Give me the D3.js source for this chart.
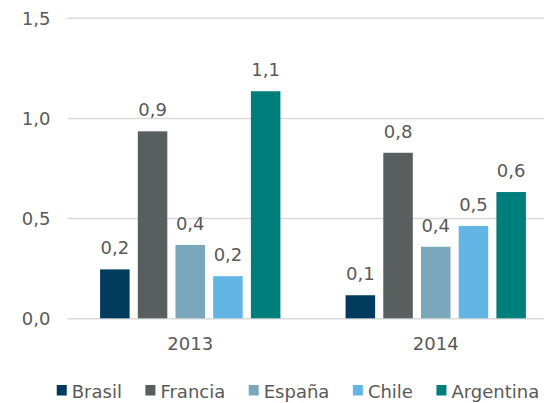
<!DOCTYPE html>
<html>
<head>
<meta charset="utf-8">
<script src="https://cdn.jsdelivr.net/npm/d3@7"></script>
<style>
  body { margin: 0; background: #fff; }
  svg { display: block; font-family: "DejaVu Sans", Verdana, sans-serif; }
</style>
</head>
<body>
<div id="chart"></div>
<script>
// data
const years = ['2013', '2014']
const countries = ['Brasil', 'Francia', 'España', 'Chile', 'Argentina']
const colors = ['#003a5c', '#595f5e', '#7ba7bd', '#63b5e5', '#007e7c']
const values2013 = [0.244, 0.933, 0.366, 0.21, 1.133]
const values2014 = [0.115, 0.826, 0.357, 0.461, 0.63]
const yTicks = [0, 0.5, 1.0, 1.5]

const seriesByYear = [values2013, values2014]

const width = 544
const height = 403
const textColor = '#595959'
const fmt = v => d3.format('.1f')(v).replace('.', ',')

const svg = d3.select('#chart').append('svg')
    .attr('width', width).attr('height', height)

// scales
const yScale = d3.scaleLinear().domain([0, 1.5]).range([318.3, 17.7])
const x0 = d3.scaleBand().domain(years).range([67.5, 558.5])
const x1 = d3.scaleBand().domain(countries)
    .range([28.5, x0.bandwidth() - 28.5])
    .paddingInner(0.217).paddingOuter(0.1085)

// gridlines + y labels
const yAxis = d3.axisLeft(yScale)
    .tickValues(yTicks)
    .tickSize(-(width - 67.5))
    .tickPadding(17)
    .tickFormat(fmt)
const yAxisG = svg.append('g')
    .attr('transform', 'translate(67.5,0)')
    .call(yAxis)
yAxisG.select('.domain').remove()
yAxisG.selectAll('.tick line').attr('stroke', '#d9d9d9').attr('stroke-width', 1.5)
yAxisG.selectAll('.tick text')
    .attr('fill', textColor)
    .attr('font-size', 18)
    .attr('dy', '0.36em')
    .attr('font-family', '"DejaVu Sans", Verdana, sans-serif')

// bars
const groups = svg.append('g').selectAll('g')
    .data(years)
    .join('g')
    .attr('transform', d => `translate(${x0(d)},0)`)

groups.each(function (year, yi) {
    const g = d3.select(this)
    const rows = countries.map((c, i) => ({ country: c, value: seriesByYear[yi][i], color: colors[i] }))
    g.selectAll('rect').data(rows).join('rect')
        .attr('x', d => x1(d.country))
        .attr('y', d => yScale(d.value))
        .attr('width', x1.bandwidth())
        .attr('height', d => yScale(0) - yScale(d.value))
        .attr('fill', d => d.color)
    g.selectAll('text').data(rows).join('text')
        .attr('x', d => x1(d.country) + x1.bandwidth() / 2)
        .attr('y', d => yScale(d.value) - 15)
        .attr('text-anchor', 'middle')
        .attr('font-size', 18)
        .attr('fill', textColor)
        .text(d => fmt(d.value))
})

// x axis labels
const xAxis = d3.axisBottom(x0).tickSize(0).tickPadding(19)
const xAxisG = svg.append('g')
    .attr('transform', `translate(0,${yScale(0)})`)
    .call(xAxis)
xAxisG.select('.domain').remove()
xAxisG.selectAll('.tick text')
    .attr('fill', textColor)
    .attr('font-size', 18)
    .attr('font-family', '"DejaVu Sans", Verdana, sans-serif')

// legend
const legend = svg.append('g').attr('transform', 'translate(0,398)')
const items = legend.selectAll('g').data(countries).join('g')
items.append('rect')
    .attr('y', -13).attr('width', 10).attr('height', 10.5)
    .attr('fill', (d, i) => colors[i])
items.append('text')
    .attr('x', 15)
    .attr('font-size', 18)
    .attr('fill', textColor)
    .text(d => d)
const gap = 23.5
let offsets = []
let pos = 0
items.each(function () {
    offsets.push(pos)
    pos += 15 + d3.select(this).select('text').node().getComputedTextLength() + gap
})
const totalW = pos - gap
const startX = 298 - totalW / 2
items.attr('transform', (d, i) => `translate(${startX + offsets[i]},0)`)
</script>
</body>
</html>
